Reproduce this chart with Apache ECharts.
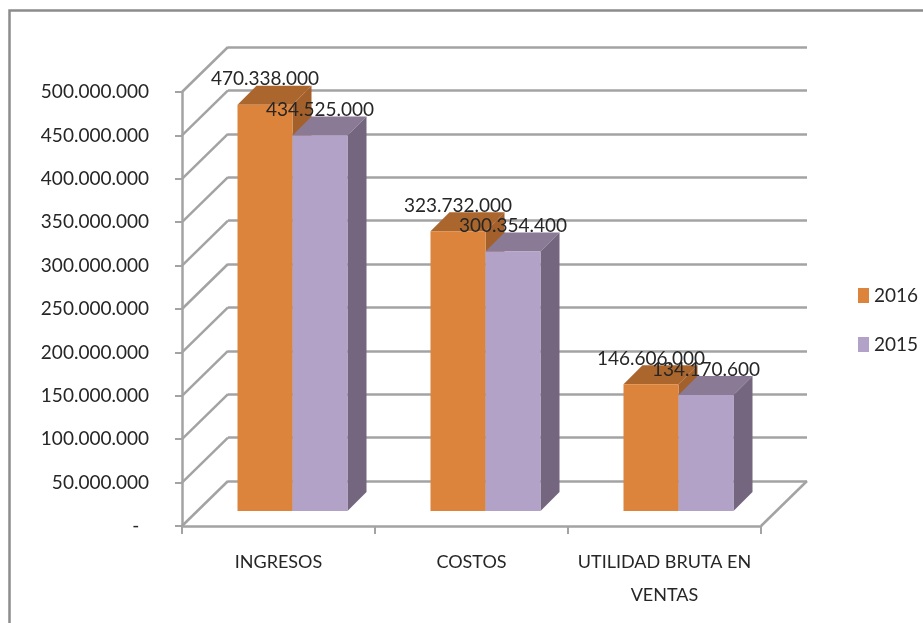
<!DOCTYPE html>
<html>
<head>
<meta charset="utf-8">
<title>Ingresos, costos y utilidad</title>
<script src="https://cdn.jsdelivr.net/npm/echarts@6/dist/echarts.min.js"></script>
<style>
  html, body { margin: 0; padding: 0; background: #fff; }
  #chart { width: 923px; height: 623px; }
</style>
</head>
<body>
<div id="chart"></div>
<script>
// datos
const categories = ["INGRESOS", "COSTOS", "UTILIDAD BRUTA EN\nVENTAS"];
const years = ["2016", "2015"];
const values2016 = [470338000, 323732000, 146606000];
const values2015 = [434525000, 300354400, 134170600];
const yTicks = [0, 50000000, 100000000, 150000000, 200000000, 250000000, 300000000, 350000000, 400000000, 450000000, 500000000];

const FONT = 'Lato, "Liberation Sans", sans-serif';
const gridColor = "#a3a3a3";
const textColor = "#262626";
const wallDx = 46, wallDy = 45;   // profundidad de la pared del fondo
const barDx = 14, barDy = 15;     // plano frontal de las barras
const barDepth = 19;
const barWidth = 55;
const plot = { left: 182, top: 92, width: 579, height: 434 };

function formatMoney(v) {
  if (v === 0) return "-\u00A0\u00A0";
  return String(v).replace(/\B(?=(\d{3})+(?!\d))/g, ".");
}

// cara superior y lateral de cada barra
function facesRenderer(offset, topColor, sideColor) {
  return function (params, api) {
    const p = api.coord([api.value(0), api.value(1)]);
    const base = api.coord([api.value(0), 0]);
    const x0 = p[0] + offset, x1 = x0 + barWidth, y = p[1], y0 = base[1];
    const d = barDepth;
    return {
      type: "group",
      children: [
        { type: "polygon", shape: { points: [[x0, y], [x1, y], [x1 + d, y - d], [x0 + d, y - d]] }, style: { fill: topColor } },
        { type: "polygon", shape: { points: [[x1, y], [x1 + d, y - d], [x1 + d, y0 - d], [x1, y0]] }, style: { fill: sideColor } }
      ]
    };
  };
}

function barLabel() {
  return {
    show: true,
    position: "top",
    distance: 16,
    fontFamily: FONT,
    fontSize: 19,
    color: textColor,
    formatter: (p) => formatMoney(p.value)
  };
}

const chart = echarts.init(document.getElementById("chart"));
chart.setOption({
  animation: false,
  grid: [
    { left: plot.left, top: plot.top, width: plot.width, height: plot.height },
    // las barras quedan un poco mas cortas que la escala del frente
    { left: plot.left + barDx, top: plot.top - barDy + 2, width: plot.width, height: plot.height - 2 },
    { left: plot.left + wallDx, top: plot.top - wallDy, width: plot.width, height: plot.height }
  ],
  legend: {
    orient: "vertical",
    left: 853,
    top: 281,
    itemWidth: 11,
    itemHeight: 15,
    itemGap: 30,
    icon: "rect",
    data: years,
    textStyle: { fontFamily: FONT, fontSize: 19, color: textColor }
  },
  xAxis: [
    {
      type: "category", gridIndex: 0, data: categories,
      axisLine: { lineStyle: { color: gridColor, width: 2.5 } },
      axisTick: { show: true, length: 8, lineStyle: { color: gridColor, width: 2 } },
      axisLabel: { fontFamily: FONT, fontSize: 18, color: textColor, margin: 20, lineHeight: 33, interval: 0 }
    },
    { type: "category", gridIndex: 1, data: categories, show: false },
    { type: "category", gridIndex: 2, data: categories, show: false }
  ],
  yAxis: [
    {
      type: "value", gridIndex: 0, min: 0, max: 500000000, interval: 50000000,
      axisLine: { show: true, lineStyle: { color: gridColor, width: 2.5 } },
      axisTick: { show: true, length: 7, lineStyle: { color: gridColor, width: 2 } },
      splitLine: { show: false },
      axisLabel: { fontFamily: FONT, fontSize: 19, color: textColor, margin: 33, padding: [3, 0, 0, 0], formatter: formatMoney }
    },
    { type: "value", gridIndex: 1, min: 0, max: 500000000, interval: 50000000, show: false, splitLine: { show: false } },
    {
      type: "value", gridIndex: 2, min: 0, max: 500000000, interval: 50000000,
      axisLine: { show: false }, axisTick: { show: false }, axisLabel: { show: false },
      splitLine: { show: true, lineStyle: { color: gridColor, width: 2.5 } }
    }
  ],
  series: [
    // diagonales de la pared izquierda y del piso
    {
      type: "custom", name: "paredes", xAxisIndex: 0, yAxisIndex: 0, z: 1, silent: true,
      data: yTicks.map((v) => [0, v]),
      encode: { x: 0, y: 1 },
      renderItem(params, api) {
        const y = api.coord([0, api.value(1)])[1];
        const x = params.coordSys.x;
        const children = [
          { type: "line", shape: { x1: x, y1: y, x2: x + wallDx, y2: y - wallDy }, style: { stroke: gridColor, lineWidth: 2.5 } }
        ];
        if (api.value(1) === 0) {
          const xr = x + params.coordSys.width;
          children.push({ type: "line", shape: { x1: xr, y1: y, x2: xr + wallDx, y2: y - wallDy }, style: { stroke: gridColor, lineWidth: 2.5 } });
        }
        return { type: "group", children };
      }
    },
    {
      type: "custom", name: "caras2016", xAxisIndex: 1, yAxisIndex: 1, z: 3, silent: true,
      data: values2016.map((v, i) => [i, v]),
      encode: { x: 0, y: 1 },
      renderItem: facesRenderer(-barWidth, "#ab662e", "#a3602b")
    },
    {
      type: "bar", name: years[0], xAxisIndex: 1, yAxisIndex: 1, z: 4, silent: true,
      data: values2016, barWidth: barWidth, barGap: 0,
      itemStyle: { color: "#dc843c" },
      label: barLabel()
    },
    {
      type: "custom", name: "caras2015", xAxisIndex: 1, yAxisIndex: 1, z: 5, silent: true,
      data: values2015.map((v, i) => [i, v]),
      encode: { x: 0, y: 1 },
      renderItem: facesRenderer(0, "#8a7a96", "#74667e")
    },
    {
      type: "bar", name: years[1], xAxisIndex: 1, yAxisIndex: 1, z: 6, silent: true,
      data: values2015, barWidth: barWidth, barGap: 0,
      itemStyle: { color: "#b2a2c7" },
      label: barLabel()
    }
  ],
  graphic: [
    // marco del grafico, solo arriba y a la izquierda
    { type: "polyline", silent: true, shape: { points: [[9.5, 623], [9.5, 10.5], [923, 10.5]] }, style: { fill: "none", stroke: "#8c8c8c", lineWidth: 2.5 } }
  ]
});
</script>
</body>
</html>
